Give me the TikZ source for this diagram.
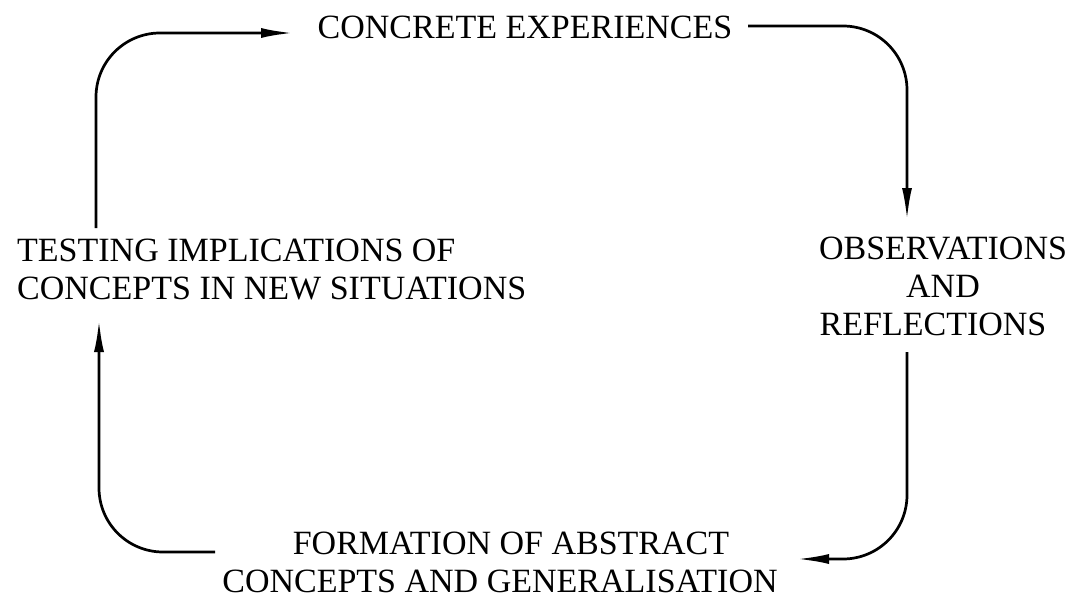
\documentclass[tikz,border=0pt]{standalone}
\usepackage{fontspec}
\setmainfont{Liberation Serif}
\usetikzlibrary{arrows.meta}
\begin{document}
\begin{tikzpicture}[x=1pt,y=-1pt,
  label/.style={inner sep=0pt, font=\fontsize{34}{38}\selectfont},
  flow/.style={line width=2.7pt, rounded corners=64pt,
    -{Latex[length=32pt,width=10pt]}}]
\useasboundingbox (0,0) rectangle (1070,599);

% stages of the cycle (anchored on the baseline of the last line)
\node[label, anchor=base] (ce) at (525,39) {CONCRETE EXPERIENCES};
\node[label, anchor=base west, align=left] (test) at (17,299)
  {TESTING IMPLICATIONS OF\\CONCEPTS IN NEW SITUATIONS};
\node[label, anchor=base, align=center] (obs) at (943,335)
  {OBSERVATIONS\\AND\hspace*{30pt}\\REFLECTIONS\hspace*{20pt}};
\node[label, anchor=base, align=center] (form) at (500,592)
  {\hspace*{22pt}FORMATION OF ABSTRACT\\CONCEPTS AND GENERALISATION};

% connector ends
\coordinate (a1) at (96,228);
\coordinate (b1) at (293,33);
\coordinate (a2) at (748,26);
\coordinate (b2) at (907,220);
\coordinate (a3) at (907,352);
\coordinate (b3) at (797,559);
\coordinate (a4) at (215,552);
\coordinate (b4) at (99,320);

% cycle arrows
\draw[flow] (a1) |- (b1);
\draw[flow] (a2) -| (b2);
\draw[flow] (a3) |- (b3);
\draw[flow] (a4) -| (b4);
\end{tikzpicture}
\end{document}
